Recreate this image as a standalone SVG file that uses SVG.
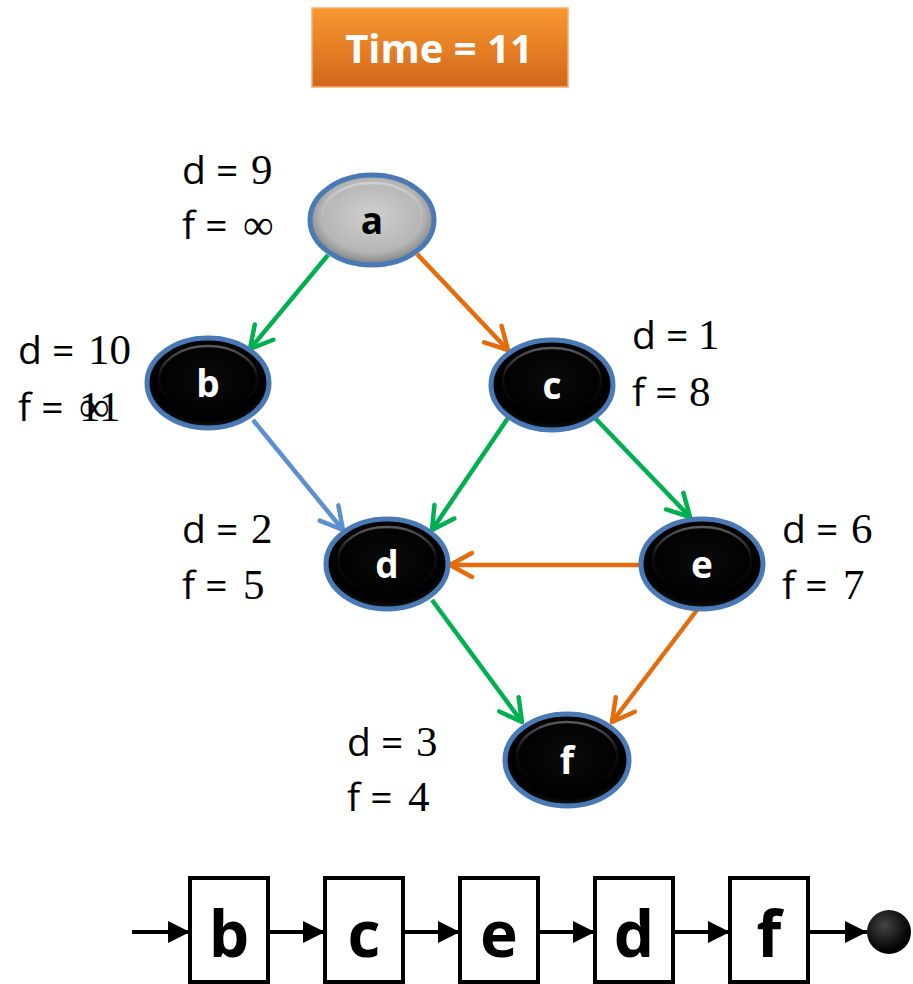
<svg xmlns="http://www.w3.org/2000/svg" width="913" height="984" viewBox="0 0 913 984">
<defs>
<style>
.lbl{font-family:"Open Sans","Noto Sans",sans-serif;font-size:39px;fill:#000}
.num{font-family:"Liberation Serif","DejaVu Serif",serif;font-size:43px}
.nl{font-family:"Open Sans","Noto Sans",sans-serif;font-weight:bold;font-size:37px;text-anchor:middle;fill:#fff}
.node{stroke:#4a7ab5;stroke-width:5}
.hl{fill:none;stroke:url(#hlg);stroke-width:2.5}
.e{stroke-width:4.5;fill:none}
.g{stroke:#00b050}
.o{stroke:#e46c0a}
.b{stroke:#5b8fd0}
.box{fill:#fff;stroke:#000;stroke-width:4}
.bl{font-family:"Open Sans","Noto Sans",sans-serif;font-weight:bold;font-size:64px;text-anchor:middle;fill:#000}
.ln{stroke:#000;stroke-width:4}
</style>
<linearGradient id="tg" x1="0" y1="0" x2="0" y2="1">
<stop offset="0" stop-color="#f9972f"/>
<stop offset="1" stop-color="#d2671b"/>
</linearGradient>
<linearGradient id="hlg" x1="0" y1="0" x2="0" y2="1">
<stop offset="0" stop-color="#fff" stop-opacity="0.35"/>
<stop offset="0.45" stop-color="#fff" stop-opacity="0.05"/>
<stop offset="1" stop-color="#fff" stop-opacity="0"/>
</linearGradient>
<radialGradient id="blk" cx="0.5" cy="0.45" r="0.55">
<stop offset="0" stop-color="#0a0a0a"/>
<stop offset="0.85" stop-color="#000"/>
<stop offset="1" stop-color="#1a1a1a"/>
</radialGradient>
<radialGradient id="gry" cx="0.5" cy="0.45" r="0.55">
<stop offset="0" stop-color="#d0d0d0"/>
<stop offset="0.75" stop-color="#b5b5b5"/>
<stop offset="1" stop-color="#7f7f7f"/>
</radialGradient>
<radialGradient id="ball" cx="0.4" cy="0.35" r="0.6">
<stop offset="0" stop-color="#444"/>
<stop offset="1" stop-color="#000"/>
</radialGradient>
<marker id="ag" markerUnits="userSpaceOnUse" markerWidth="32" markerHeight="32" viewBox="-28 -16 32 32" refX="0" refY="0" orient="auto">
<path d="M-22,-12 L0,0 L-22,12" fill="none" stroke="#00b050" stroke-width="4.5" stroke-linecap="round" stroke-linejoin="round"/>
</marker>
<marker id="ao" markerUnits="userSpaceOnUse" markerWidth="32" markerHeight="32" viewBox="-28 -16 32 32" refX="0" refY="0" orient="auto">
<path d="M-22,-12 L0,0 L-22,12" fill="none" stroke="#e46c0a" stroke-width="4.5" stroke-linecap="round" stroke-linejoin="round"/>
</marker>
<marker id="ab" markerUnits="userSpaceOnUse" markerWidth="32" markerHeight="32" viewBox="-28 -16 32 32" refX="0" refY="0" orient="auto">
<path d="M-22,-12 L0,0 L-22,12" fill="none" stroke="#5b8fd0" stroke-width="4.5" stroke-linecap="round" stroke-linejoin="round"/>
</marker>
<marker id="ak" markerUnits="userSpaceOnUse" markerWidth="26" markerHeight="26" viewBox="-24 -13 26 26" refX="0" refY="0" orient="auto">
<path d="M-22,-11 L0,0 L-22,11 Z" fill="#000"/>
</marker>
</defs>

<g id="title">
<rect x="312" y="8" width="256" height="79" fill="url(#tg)" stroke="#f5b070" stroke-width="1.5"/>
<text x="439" y="63" font-family="Open Sans, Noto Sans, sans-serif" font-weight="bold" font-size="40" text-anchor="middle" fill="#fff">Time = 11</text>
</g>

<g id="connectors">
<line class="e g" x1="328" y1="255" x2="250" y2="349" marker-end="url(#ag)"/>
<line class="e o" x1="417" y1="254" x2="508" y2="350" marker-end="url(#ao)"/>
<line class="e b" x1="253" y1="420" x2="343" y2="530" marker-end="url(#ab)"/>
<line class="e g" x1="508" y1="418" x2="432" y2="530" marker-end="url(#ag)"/>
<line class="e g" x1="595" y1="418" x2="690" y2="517" marker-end="url(#ag)"/>
<line class="e o" x1="640" y1="565" x2="450" y2="565" marker-end="url(#ao)"/>
<line class="e g" x1="432" y1="600" x2="522" y2="722" marker-end="url(#ag)"/>
<line class="e o" x1="697" y1="610" x2="612" y2="722" marker-end="url(#ao)"/>
</g>

<g id="node-a">
<ellipse class="node" cx="372" cy="220" rx="62" ry="45" fill="url(#gry)"/>
<ellipse class="hl" cx="372" cy="216" rx="50" ry="33"/>
<text class="nl" x="372" y="234" style="fill:#000">a</text>
<text class="lbl" x="182" y="184" xml:space="preserve">d = <tspan class="num" x="251">9</tspan></text>
<text class="lbl" x="182" y="239" xml:space="preserve">f = <tspan class="num" x="243">∞</tspan></text>
</g>

<g id="node-b">
<ellipse class="node" cx="208" cy="383" rx="61" ry="45" fill="url(#blk)"/>
<ellipse class="hl" cx="208" cy="379" rx="49" ry="33"/>
<text class="nl" x="208" y="397">b</text>
<text class="lbl" x="18" y="364" xml:space="preserve">d = <tspan class="num" x="88">10</tspan></text>
<text class="lbl" x="18" y="421" xml:space="preserve">f = <tspan class="num" x="79">11</tspan></text>
<text class="num" x="79" y="421">∞</text>
</g>

<g id="node-c">
<ellipse class="node" cx="552" cy="385" rx="61" ry="45" fill="url(#blk)"/>
<ellipse class="hl" cx="552" cy="381" rx="49" ry="33"/>
<text class="nl" x="552" y="399">c</text>
<text class="lbl" x="632" y="349" xml:space="preserve">d = <tspan class="num" x="698">1</tspan></text>
<text class="lbl" x="632" y="406" xml:space="preserve">f = <tspan class="num" x="689">8</tspan></text>
</g>

<g id="node-d">
<ellipse class="node" cx="387" cy="564" rx="61" ry="45" fill="url(#blk)"/>
<ellipse class="hl" cx="387" cy="560" rx="49" ry="33"/>
<text class="nl" x="387" y="578">d</text>
<text class="lbl" x="182" y="543" xml:space="preserve">d = <tspan class="num" x="251">2</tspan></text>
<text class="lbl" x="182" y="599" xml:space="preserve">f = <tspan class="num" x="243">5</tspan></text>
</g>

<g id="node-e">
<ellipse class="node" cx="702" cy="564" rx="61" ry="45" fill="url(#blk)"/>
<ellipse class="hl" cx="702" cy="560" rx="49" ry="33"/>
<text class="nl" x="702" y="578">e</text>
<text class="lbl" x="782" y="543" xml:space="preserve">d = <tspan class="num" x="851">6</tspan></text>
<text class="lbl" x="782" y="599" xml:space="preserve">f = <tspan class="num" x="843">7</tspan></text>
</g>

<g id="node-f">
<ellipse class="node" cx="567" cy="760" rx="62" ry="46" fill="url(#blk)"/>
<ellipse class="hl" cx="567" cy="756" rx="50" ry="34"/>
<text class="nl" x="567" y="774">f</text>
<text class="lbl" x="347" y="756" xml:space="preserve">d = <tspan class="num" x="416">3</tspan></text>
<text class="lbl" x="347" y="811" xml:space="preserve">f = <tspan class="num" x="408">4</tspan></text>
</g>

<g id="list">
<line class="ln" x1="132" y1="932" x2="190" y2="932" marker-end="url(#ak)"/>
<line class="ln" x1="268" y1="932" x2="325" y2="932" marker-end="url(#ak)"/>
<line class="ln" x1="403" y1="932" x2="460" y2="932" marker-end="url(#ak)"/>
<line class="ln" x1="538" y1="932" x2="595" y2="932" marker-end="url(#ak)"/>
<line class="ln" x1="673" y1="932" x2="730" y2="932" marker-end="url(#ak)"/>
<line class="ln" x1="808" y1="932" x2="867" y2="932" marker-end="url(#ak)"/>
<g id="list-b"><rect class="box" x="190" y="878" width="78" height="104"/><text class="bl" x="229" y="957">b</text></g>
<g id="list-c"><rect class="box" x="325" y="878" width="78" height="104"/><text class="bl" x="364" y="957">c</text></g>
<g id="list-e"><rect class="box" x="460" y="878" width="78" height="104"/><text class="bl" x="499" y="957">e</text></g>
<g id="list-d"><rect class="box" x="595" y="878" width="78" height="104"/><text class="bl" x="634" y="957">d</text></g>
<g id="list-f"><rect class="box" x="730" y="878" width="78" height="104"/><text class="bl" x="769" y="957">f</text></g>
<circle cx="889" cy="932" r="22" fill="url(#ball)"/>
</g>
</svg>
